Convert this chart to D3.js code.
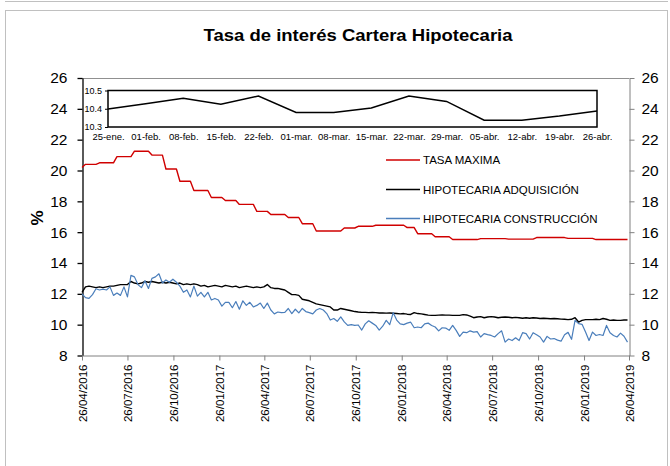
<!DOCTYPE html>
<html><head><meta charset="utf-8">
<script src="https://cdn.jsdelivr.net/npm/d3@7"></script>
<style>body{margin:0;background:#fff} svg{display:block} text{font-family:"Liberation Sans",Arial,sans-serif}</style>
</head><body><svg id="c" width="670" height="466"></svg>
<script>
const chartTitle = "Tasa de interés Cartera Hipotecaria";
const yLabel = "%";
const startDate = "26/04/2016";
const endDate = "26/04/2019";
const xTickLabels = ["26/04/2016","26/07/2016","26/10/2016","26/01/2017","26/04/2017","26/07/2017","26/10/2017","26/01/2018","26/04/2018","26/07/2018","26/10/2018","26/01/2019","26/04/2019"];
const yTicks = [8,10,12,14,16,18,20,22,24,26];
const seriesNames = ["TASA MAXIMA","HIPOTECARIA ADQUISICIÓN","HIPOTECARIA CONSTRUCCIÓN"];

// weekly values
const tasaMaxima = [20.2,
20.4,20.4,20.4,20.4,
20.5,20.5,20.5,20.5,20.5,
20.9,20.9,20.9,20.9,20.9,
21.25,21.25,21.25,21.25,21.25,
21.0,21.0,21.0,21.0,
20.1,20.1,20.1,20.1,
19.3,19.3,19.3,19.3,
18.7,18.7,18.7,18.7,18.7,
18.25,18.25,18.25,18.25,
18.05,18.05,18.05,18.05,
17.8,17.8,17.8,17.8,17.8,
17.35,17.35,17.35,17.35,
17.15,17.15,17.15,17.15,17.15,
16.95,16.95,16.95,16.95,
16.55,16.55,16.55,16.55,
16.08,16.08,16.08,16.08,16.08,16.08,16.08,16.08,
16.27,16.27,16.27,16.27,
16.38,16.38,16.38,16.38,16.38,
16.45,16.45,16.45,16.45,16.45,16.45,16.45,16.45,16.45,
16.3,16.3,16.3,
15.9,15.9,15.9,15.9,15.9,
15.7,15.7,15.7,15.7,15.7,
15.52,15.52,15.52,15.52,15.52,15.52,15.52,15.52,
15.58,15.58,15.58,15.58,15.58,15.58,15.58,15.58,
15.55,15.55,15.55,15.55,15.55,15.55,15.55,15.55,
15.65,15.65,15.65,15.65,15.65,15.65,15.65,15.65,15.65,
15.6,15.6,15.6,15.6,15.6,15.6,15.6,15.6,
15.52,15.52,15.52,15.52,15.52,15.52,15.52,15.52,15.52,15.52];

const adquisicion = [12.1,12.45,12.5,12.45,12.4,12.45,12.4,12.45,12.5,12.5,
12.55,12.6,12.6,12.6,12.8,12.7,12.65,12.7,12.8,12.75,
12.8,12.75,12.7,12.75,12.7,12.75,12.7,12.65,12.7,12.6,
12.65,12.6,12.65,12.6,12.5,12.55,12.45,12.5,12.55,12.5,
12.45,12.55,12.5,12.45,12.5,12.4,12.45,12.5,12.45,12.4,
12.45,12.4,12.45,12.6,12.4,12.35,12.35,12.3,12.25,12.1,
11.95,11.95,11.9,11.65,11.6,11.55,11.45,11.35,11.3,11.25,
11.2,11.15,10.95,10.95,11.05,11.0,10.95,10.9,10.85,10.82,
10.8,10.8,10.78,10.8,10.78,10.76,10.76,10.75,10.76,10.74,
10.72,10.7,10.72,10.68,10.66,10.78,10.72,10.7,10.66,10.62,
10.6,10.6,10.62,10.63,10.62,10.62,10.6,10.6,10.6,10.65,
10.63,10.55,10.45,10.5,10.52,10.45,10.5,10.52,10.5,10.45,
10.48,10.5,10.48,10.45,10.47,10.45,10.42,10.45,10.42,10.45,
10.43,10.4,10.42,10.4,10.38,10.4,10.38,10.36,10.35,10.33,
10.35,10.45,10.17,10.28,10.33,10.33,10.33,10.35,10.33,10.4,
10.35,10.28,10.3,10.28,10.28,10.3,10.3];

const construccion = [12.0,11.75,11.7,11.95,12.33,12.25,12.3,12.25,12.45,11.9,
12.05,11.9,12.45,11.8,13.2,13.1,12.6,12.4,12.85,12.35,
13.0,13.1,13.3,12.7,12.9,12.75,12.95,12.75,12.5,12.1,
12.25,11.8,12.5,11.85,12.1,11.8,12.1,11.6,11.7,11.6,
11.2,11.45,11.45,11.1,11.5,11.0,11.55,11.25,11.45,11.15,
11.25,11.4,11.05,11.4,10.95,10.7,10.82,10.78,10.8,11.05,
10.72,11.0,10.76,11.05,10.85,10.78,10.7,10.95,11.05,10.95,
10.72,10.3,10.4,10.22,10.5,10.18,9.95,10.0,9.95,9.98,
9.65,10.05,10.25,10.1,9.95,9.65,9.9,10.28,10.0,10.78,
10.3,10.05,10.0,10.1,10.16,9.8,9.85,9.8,10.05,10.1,
9.95,9.85,9.6,9.8,9.78,9.63,9.95,9.63,9.24,9.52,
9.48,9.6,9.52,9.55,9.2,9.42,9.35,9.3,9.2,9.42,
9.6,8.87,9.07,8.97,9.15,8.97,9.48,9.42,9.07,9.48,
9.35,9.2,8.87,9.24,9.07,9.1,9.0,8.93,9.35,9.5,
9.05,10.28,10.07,10.02,9.52,8.97,9.52,9.3,9.36,9.3,
9.95,9.48,9.3,9.2,9.45,9.25,8.87];

const insetCategories = ["25-ene.","01-feb.","08-feb.","15-feb.","22-feb.","01-mar.","08-mar.","15-mar.","22-mar.","29-mar.","05-abr.","12-abr.","19-abr.","26-abr."];
const insetValues = [10.398,10.427,10.457,10.425,10.47,10.38,10.38,10.404,10.47,10.44,10.337,10.337,10.36,10.388];
const insetTicks = [10.3,10.4,10.5];

const colors = ["#d00000","#000000","#4a7ebb"];

const svg = d3.select("#c");
const parse = d3.timeParse("%d/%m/%Y");
const t0 = parse(startDate);
const dates = tasaMaxima.map((_, i) => d3.timeDay.offset(t0, 7 * i));

// frame
svg.append("line").attr("x1",5).attr("x2",668).attr("y1",1.5).attr("y2",1.5).attr("stroke","#c0c0c0");
svg.append("rect").attr("x",5.5).attr("y",10.5).attr("width",662).attr("height",470)
  .attr("fill","none").attr("stroke","#c0c0c0");

const L = 82, R = 629, T = 78, B = 355.5;
const x = d3.scaleTime().domain([t0, parse(endDate)]).range([L, R]);
const y = d3.scaleLinear().domain([8, 26]).range([B, T]);

// title
svg.append("text").attr("x",358).attr("y",41).attr("text-anchor","middle")
  .style("font-size","16.5px").style("font-weight","bold").attr("textLength",309).attr("lengthAdjust","spacingAndGlyphs").text(chartTitle);

// plot top border
svg.append("line").attr("x1",L).attr("x2",R).attr("y1",T+0.5).attr("y2",T+0.5).attr("stroke","#909090");

// axes
const gl = svg.append("g").attr("transform",`translate(${L+0.5},0)`)
  .call(d3.axisLeft(y).tickValues(yTicks).tickSize(5).tickSizeOuter(0).tickPadding(10).tickFormat(d3.format("d")));
gl.selectAll("path,line").attr("stroke","#000").attr("stroke-width",1.3);
gl.selectAll("text").style("font-size","15.5px").attr("fill","#000");

const gr = svg.append("g").attr("transform",`translate(${R+0.5},0)`)
  .call(d3.axisRight(y).tickValues(yTicks).tickSize(5).tickSizeOuter(0).tickPadding(7).tickFormat(d3.format("d")));
gr.selectAll("path,line").attr("stroke","#808080");
gr.selectAll("text").style("font-size","15.5px").attr("fill","#000");

const gb = svg.append("g").attr("transform",`translate(0,${B})`)
  .call(d3.axisBottom(x).tickValues(xTickLabels.map(parse)).tickSize(5).tickSizeOuter(0).tickFormat(d3.timeFormat("%d/%m/%Y")));
gb.selectAll("path,line").attr("stroke","#808080");
gb.selectAll("text").attr("transform","rotate(-90)").attr("x",-9).attr("y",0).attr("dy","0.35em")
  .style("text-anchor","end").style("font-size","11.5px").attr("fill","#000");

svg.append("text").attr("transform","translate(43,218) rotate(-90)").attr("text-anchor","middle")
  .style("font-size","17px").style("font-weight","bold").text(yLabel);

// lines
const line = d3.line().x((d,i) => x(dates[i])).y(d => y(d));
[tasaMaxima, adquisicion, construccion].forEach((s, k) => {
  svg.append("path").datum(s).attr("d", line).attr("fill","none")
    .attr("stroke", colors[k]).attr("stroke-width", k===2 ? 1.2 : 1.4).attr("stroke-linejoin","round");
});

// legend
const legY = [160, 189.5, 218.5];
seriesNames.forEach((n, k) => {
  svg.append("line").attr("x1",386).attr("x2",420).attr("y1",legY[k]).attr("y2",legY[k]).attr("stroke",colors[k]).attr("stroke-width",1.3);
  svg.append("text").attr("x",423).attr("y",legY[k]).attr("dy","0.36em").style("font-size","11.5px").text(n);
});

// inset
const ix = d3.scalePoint().domain(insetCategories).range([108, 597]);
const iy = d3.scaleLinear().domain([10.3, 10.5]).range([127, 90.5]);
svg.append("rect").attr("x",108).attr("y",90.5).attr("width",489).attr("height",36.5).attr("fill","#fff")
  .attr("stroke","#000").attr("stroke-width",1.5);
const gil = svg.append("g").attr("transform","translate(108,0)")
  .call(d3.axisLeft(iy).tickValues(insetTicks).tickSize(3).tickSizeOuter(0).tickPadding(3).tickFormat(d3.format(".1f")));
gil.select(".domain").remove();
gil.selectAll("line").attr("stroke","#000");
gil.selectAll("text").style("font-size","9px").attr("fill","#000");
const gib = svg.append("g").attr("transform","translate(0,127)")
  .call(d3.axisBottom(ix).tickSize(0).tickPadding(6));
gib.select(".domain").remove();
gib.selectAll("text").style("font-size","9.5px").attr("fill","#000");
svg.append("path").datum(insetValues)
  .attr("d", d3.line().x((d,i) => ix(insetCategories[i])).y(d => iy(d)))
  .attr("fill","none").attr("stroke","#000").attr("stroke-width",1.5);
</script></body></html>
